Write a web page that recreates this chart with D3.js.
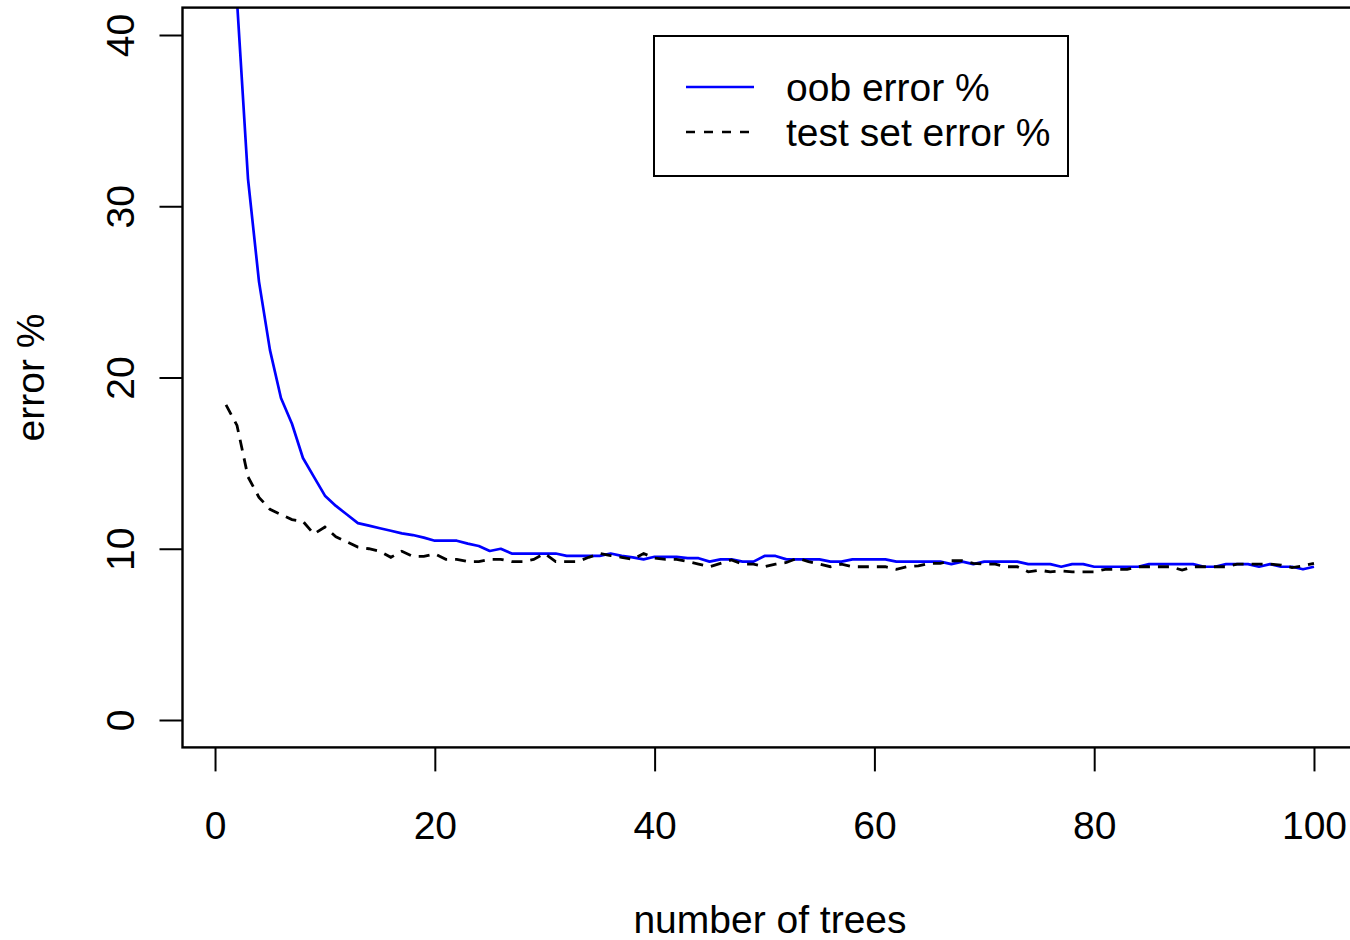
<!DOCTYPE html>
<html>
<head>
<meta charset="utf-8">
<script src="https://cdn.jsdelivr.net/npm/d3@7"></script>
<style>
  body { margin: 0; background: #fff; }
  svg { display: block; font-family: "Liberation Sans", Arial, sans-serif; }
</style>
</head>
<body>
<div id="graph"></div>
<script>
// number of trees 1..100
var trees = d3.range(1, 101);

// oob error % per number of trees (first point is above the visible range)
var oobError = [
  50.0, 42.0, 31.6, 25.6, 21.6, 18.8, 17.3, 15.3, 14.2, 13.1,
  12.5, 12.0, 11.5, 11.35, 11.2, 11.05, 10.9, 10.8, 10.65, 10.47,
  10.47, 10.47, 10.3, 10.16, 9.87, 10.0, 9.72, 9.72, 9.72, 9.72,
  9.72, 9.58, 9.58, 9.58, 9.58, 9.72, 9.58, 9.5, 9.38, 9.53,
  9.53, 9.53, 9.45, 9.45, 9.25, 9.38, 9.38, 9.25, 9.25, 9.58,
  9.58, 9.38, 9.38, 9.38, 9.38, 9.25, 9.25, 9.38, 9.38, 9.38,
  9.38, 9.25, 9.25, 9.25, 9.25, 9.25, 9.1, 9.25, 9.1, 9.25,
  9.25, 9.25, 9.25, 9.1, 9.1, 9.1, 8.95, 9.1, 9.1, 8.95,
  8.95, 8.95, 8.95, 8.95, 9.1, 9.1, 9.1, 9.1, 9.1, 8.95,
  8.95, 9.1, 9.1, 9.1, 8.95, 9.1, 8.95, 8.95, 8.8, 8.95
];

// test set error % per number of trees
var testError = [
  18.4, 17.2, 14.2, 13.0, 12.3, 12.0, 11.7, 11.6, 10.86, 11.27,
  10.7, 10.4, 10.1, 10.0, 9.85, 9.5, 9.85, 9.55, 9.55, 9.7,
  9.38, 9.38, 9.25, 9.25, 9.38, 9.38, 9.25, 9.25, 9.38, 9.72,
  9.25, 9.25, 9.25, 9.5, 9.72, 9.6, 9.5, 9.38, 9.72, 9.45,
  9.38, 9.38, 9.25, 9.1, 8.95, 9.15, 9.35, 9.1, 9.1, 8.95,
  9.1, 9.2, 9.45, 9.25, 9.1, 8.95, 9.1, 8.95, 8.95, 8.95,
  8.95, 8.8, 8.95, 9.0, 9.15, 9.15, 9.3, 9.3, 9.15, 9.1,
  9.1, 8.95, 8.95, 8.65, 8.75, 8.65, 8.7, 8.65, 8.65, 8.65,
  8.8, 8.8, 8.8, 8.95, 8.95, 8.95, 8.95, 8.75, 8.95, 8.95,
  8.95, 8.95, 9.1, 9.1, 9.1, 9.1, 9.05, 8.9, 9.0, 9.15
];

var xTicks = [0, 20, 40, 60, 80, 100];
var yTicks = [0, 10, 20, 30, 40];
var legendLabels = ["oob error %", "test set error %"];

var w = 1350;
var h = 940;
var fontSize = 39;

var vis = d3.select("#graph")
  .append("svg")
  .attr("width", w)
  .attr("height", h);

// R style: range padded by 4% on each side
var x = d3.scaleLinear()
  .domain([1 - 0.04 * 99, 100 + 0.04 * 99])
  .range([182.5, 1357.5]);
var y = d3.scaleLinear()
  .domain([0 - 0.04 * 40, 40 + 0.04 * 40])
  .range([747.4, 7.6]);

vis.append("clipPath")
  .attr("id", "plotclip")
  .append("rect")
  .attr("x", x.range()[0])
  .attr("y", y.range()[1])
  .attr("width", x.range()[1] - x.range()[0])
  .attr("height", y.range()[0] - y.range()[1]);

var line = d3.line()
  .x(function(d) { return x(d[0]); })
  .y(function(d) { return y(d[1]); });

var lines = vis.append("g").attr("clip-path", "url(#plotclip)");

lines.append("path")
  .datum(trees.map(function(t, i) { return [t, oobError[i]]; }))
  .attr("d", line)
  .attr("fill", "none")
  .attr("stroke", "#0000ff")
  .attr("stroke-width", 2.7)
  .attr("stroke-linejoin", "round");

lines.append("path")
  .datum(trees.map(function(t, i) { return [t, testError[i]]; }))
  .attr("d", line)
  .attr("fill", "none")
  .attr("stroke", "#000")
  .attr("stroke-width", 2.8)
  .attr("stroke-dasharray", "11,8");

// axes
var xAxis = vis.append("g")
  .attr("transform", "translate(0," + y.range()[0] + ")")
  .call(d3.axisBottom(x).tickValues(xTicks).tickSize(24).tickPadding(40).tickSizeOuter(0));

var yAxis = vis.append("g")
  .attr("transform", "translate(" + x.range()[0] + ",0)")
  .call(d3.axisLeft(y).tickValues(yTicks).tickSize(23).tickSizeOuter(0));

[xAxis, yAxis].forEach(function(a) {
  a.select(".domain").remove();
  a.selectAll(".tick line").attr("stroke", "#000").attr("stroke-width", 2);
  a.selectAll(".tick text")
    .attr("fill", "#000")
    .style("font-size", fontSize + "px")
    .style("font-family", "'Liberation Sans', Arial, sans-serif");
});

yAxis.selectAll(".tick text")
  .attr("x", null)
  .attr("dy", null)
  .attr("text-anchor", "middle")
  .attr("transform", "translate(-49,0) rotate(-90)");

// plot box
vis.append("rect")
  .attr("x", x.range()[0])
  .attr("y", y.range()[1])
  .attr("width", x.range()[1] - x.range()[0])
  .attr("height", y.range()[0] - y.range()[1])
  .attr("fill", "none")
  .attr("stroke", "#000")
  .attr("stroke-width", 2.4);

// axis titles
vis.append("text")
  .attr("x", (x.range()[0] + x.range()[1]) / 2)
  .attr("y", 933)
  .attr("text-anchor", "middle")
  .style("font-size", fontSize + "px")
  .text("number of trees");

vis.append("text")
  .attr("transform", "translate(44," + (y.range()[0] + y.range()[1]) / 2 + ") rotate(-90)")
  .attr("text-anchor", "middle")
  .style("font-size", fontSize + "px")
  .text("error %");

// legend
var legend = vis.append("g");

legend.append("rect")
  .attr("x", 654)
  .attr("y", 36)
  .attr("width", 414)
  .attr("height", 140)
  .attr("fill", "#fff")
  .attr("stroke", "#000")
  .attr("stroke-width", 2);

var legendStyles = [
  {stroke: "#0000ff", dash: null},
  {stroke: "#000", dash: "9,9"}
];

legend.selectAll(".legline")
  .data(legendLabels)
  .enter()
  .append("line")
  .attr("class", "legline")
  .attr("x1", 686)
  .attr("x2", 754)
  .attr("y1", function(d, i) { return 87 + i * 45; })
  .attr("y2", function(d, i) { return 87 + i * 45; })
  .attr("stroke", function(d, i) { return legendStyles[i].stroke; })
  .attr("stroke-dasharray", function(d, i) { return legendStyles[i].dash; })
  .attr("stroke-width", 2.6);

legend.selectAll(".legtext")
  .data(legendLabels)
  .enter()
  .append("text")
  .attr("class", "legtext")
  .attr("x", 786)
  .attr("y", function(d, i) { return 101 + i * 45; })
  .style("font-size", fontSize + "px")
  .text(function(d) { return d; });
</script>
</body>
</html>
